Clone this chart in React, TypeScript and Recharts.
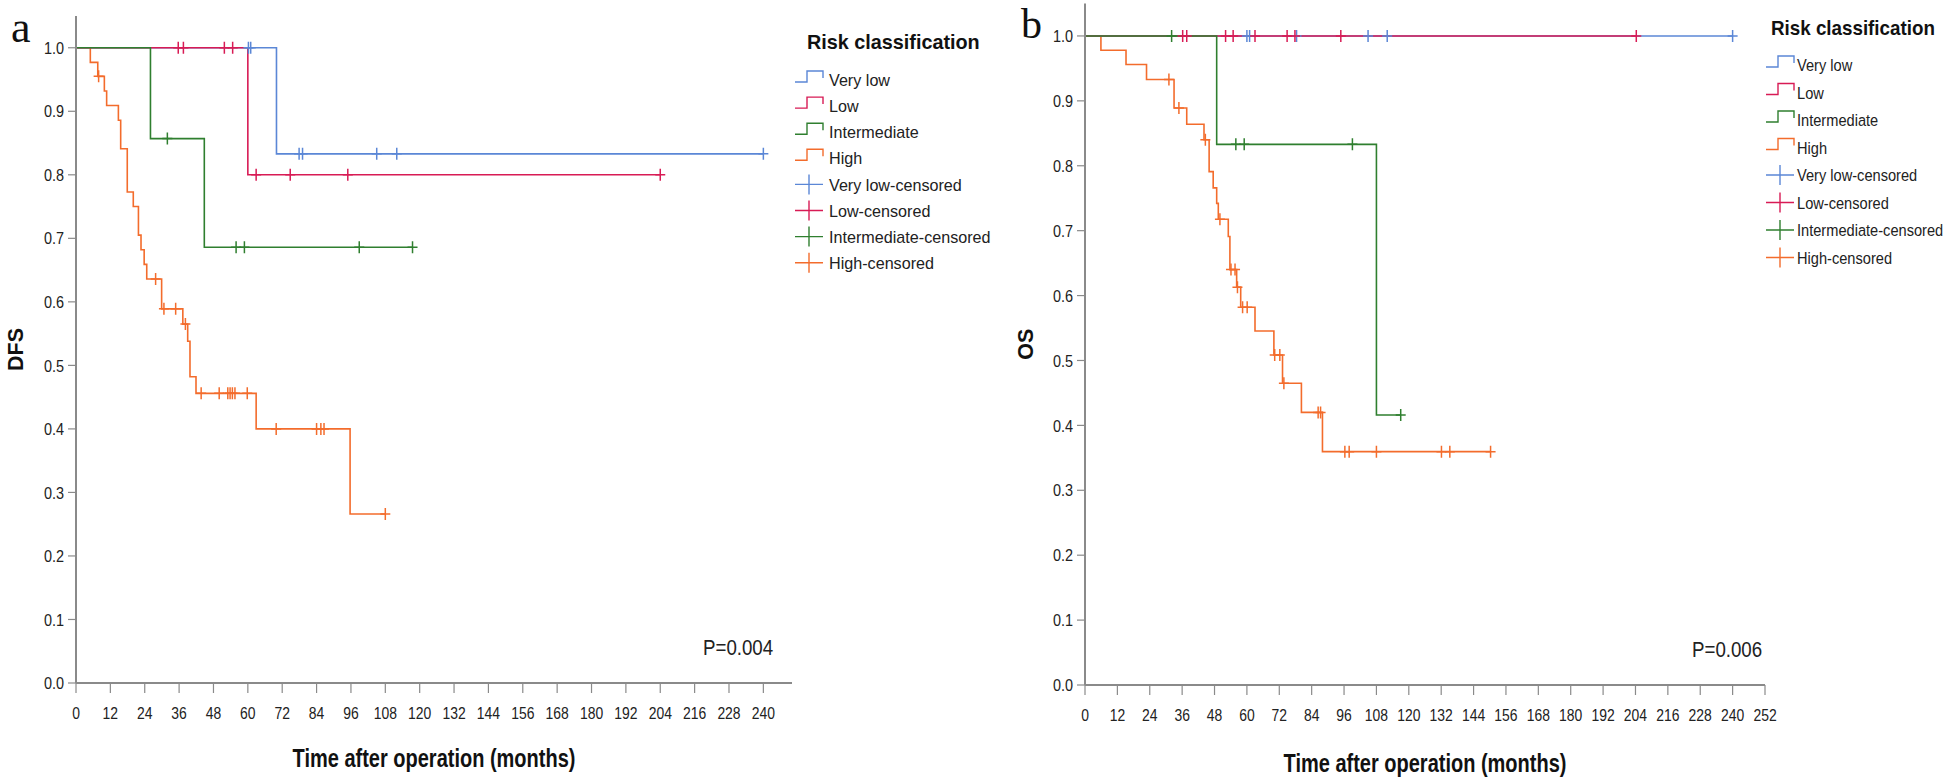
import React from 'react';
import { ComposedChart, Line, Scatter, XAxis, YAxis, Legend } from 'recharts';

type Pair = [number, number];

// ---- panel a: DFS, steps as [month, survival] ----
const DFS_VERY_LOW: Pair[] = [[0, 1], [70, 0.833], [240, 0.833]];
const DFS_LOW: Pair[] = [[0, 1], [60, 0.8], [204, 0.8]];
const DFS_INTERMEDIATE: Pair[] = [[0, 1], [26, 0.857], [44.8, 0.686], [117.5, 0.686]];
const DFS_HIGH: Pair[] = [
  [0, 1], [5, 0.977], [7.6, 0.955], [9.9, 0.932], [10.7, 0.909], [14.8, 0.886],
  [15.6, 0.841], [17.9, 0.773], [20, 0.75], [21.8, 0.705], [22.7, 0.682],
  [23.8, 0.659], [24.7, 0.636], [29.9, 0.589], [37.3, 0.565], [39, 0.538],
  [39.8, 0.482], [41.9, 0.456], [62.9, 0.4], [95.7, 0.266], [108, 0.266],
];
// censored times (months)
const DFS_VERY_LOW_CENS = [60.2, 61, 77.9, 79.1, 105, 112, 240];
const DFS_LOW_CENS = [35.7, 37.5, 51.8, 54.7, 62.9, 74.8, 94.9, 204];
const DFS_INTERMEDIATE_CENS = [31.9, 55.9, 58.8, 98.9, 117.5];
const DFS_HIGH_CENS = [7.9, 27.8, 30.7, 34.8, 38.2, 43.7, 50, 53, 53.8, 54.6, 55.5, 59.8, 69.9, 84, 85.5, 86.6, 108];

// ---- panel b: OS ----
const OS_VERY_LOW: Pair[] = [[0, 1], [240, 1]];
const OS_LOW: Pair[] = [[0, 1], [204.3, 1]];
const OS_INTERMEDIATE: Pair[] = [[0, 1], [48.8, 0.833], [108, 0.416], [117, 0.416]];
const OS_HIGH: Pair[] = [
  [0, 1], [5.9, 0.978], [15.2, 0.956], [22.8, 0.933], [33, 0.889], [37.7, 0.864],
  [44.1, 0.84], [46, 0.791], [47.5, 0.766], [48.8, 0.742], [49.4, 0.7175],
  [53.1, 0.691], [53.7, 0.64], [56.2, 0.613], [57.7, 0.582], [63, 0.5455],
  [70, 0.5085], [73.2, 0.465], [80.2, 0.42], [88, 0.3595], [150.3, 0.3595],
];
const OS_VERY_LOW_CENS = [60, 61, 78.4, 104.9, 112, 240];
const OS_LOW_CENS = [36.2, 37.7, 52.1, 54.9, 63, 74.9, 77.8, 94.8, 204.3];
const OS_INTERMEDIATE_CENS = [32.1, 55.9, 59, 99.1, 117];
const OS_HIGH_CENS = [31.1, 34.8, 44.6, 50, 54.1, 55.6, 56.5, 58.4, 60.1, 70.3, 72.2, 73.7, 86.4, 87.3, 96.3, 97.9, 108, 132.1, 135.2, 150.3];

const GROUPS = ['Very low', 'Low', 'Intermediate', 'High'];
const COLORS = ['#5b87d6', '#d81b55', '#2f7f2f', '#f36c2c'];
const Y_TICKS = [0, 0.1, 0.2, 0.3, 0.4, 0.5, 0.6, 0.7, 0.8, 0.9, 1.0];
const DFS_X_TICKS = [0, 12, 24, 36, 48, 60, 72, 84, 96, 108, 120, 132, 144, 156, 168, 180, 192, 204, 216, 228, 240];
const OS_X_TICKS = [0, 12, 24, 36, 48, 60, 72, 84, 96, 108, 120, 132, 144, 156, 168, 180, 192, 204, 216, 228, 240, 252];

const FONT = '"Liberation Sans", Arial, sans-serif';
const SERIF = '"Liberation Serif", "Times New Roman", serif';
const AXIS = '#8a8a8a';

const toPoints = (pairs: Pair[]) => pairs.map(([t, s]) => ({ t, s }));
const levelAt = (pairs: Pair[], t: number) => {
  let s = pairs[0][1];
  for (const [pt, ps] of pairs) if (pt <= t) s = ps;
  return s;
};
const toCensored = (times: number[], pairs: Pair[]) => times.map((t) => ({ t, s: levelAt(pairs, t) }));

const crossShape = (color: string) => (props: any) => {
  const { cx, cy } = props;
  return (
    <path
      d={`M${cx - 5},${cy}H${cx + 5}M${cx},${cy - 6}V${cy + 6}`}
      stroke={color}
      strokeWidth={1.5}
      fill="none"
    />
  );
};

const YTick = (props: any) => {
  const { x, y, payload } = props;
  return (
    <text transform={`translate(${x},${y}) scale(0.85,1)`} textAnchor="end" dy="0.36em" fontSize={17} fontFamily={FONT} fill="#222">
      {Number(payload.value).toFixed(1)}
    </text>
  );
};

const XTick = (props: any) => {
  const { x, y, payload } = props;
  return (
    <text transform={`translate(${x},${y}) scale(0.82,1)`} textAnchor="middle" dy="0.72em" fontSize={17} fontFamily={FONT} fill="#222">
      {payload.value}
    </text>
  );
};

const LEGEND_LABELS = [...GROUPS, ...GROUPS.map((g) => `${g}-censored`)];

function LegendSvg({ spec }: { spec: any }) {
  const { width, titleX, titleY, titleScale, rowY, rowGap, symX, textX, fontSize, scaleX } = spec;
  return (
    <svg width={width} height={300} style={{ display: 'block', overflow: 'visible' }}>
      <text transform={`translate(${titleX},${titleY}) scale(${titleScale},1)`} dy="0.36em" fontSize={20} fontWeight="bold" fontFamily={FONT} fill="#111">
        Risk classification
      </text>
      {LEGEND_LABELS.map((label, i) => {
        const cy = rowY + i * rowGap;
        const color = COLORS[i % 4];
        const sym = i < 4
          ? <path d={`M${symX},${cy + 2}H${symX + 12}V${cy - 9}H${symX + 28}V${cy - 2}`} stroke={color} strokeWidth={1.4} fill="none" />
          : <path d={`M${symX},${cy}H${symX + 28}M${symX + 14},${cy - 10}V${cy + 10}`} stroke={color} strokeWidth={1.4} fill="none" />;
        return (
          <g key={label}>
            {sym}
            <text transform={`translate(${textX},${cy}) scale(${scaleX},1)`} dy="0.36em" fontSize={fontSize} fontFamily={FONT} fill="#222">
              {label}
            </text>
          </g>
        );
      })}
    </svg>
  );
}

function Panel({ spec }: { spec: any }) {
  const order = [3, 0, 1, 2];
  return (
    <div style={{ position: 'absolute', left: spec.left, top: 0 }}>
      <ComposedChart width={spec.width} height={780} margin={spec.margin}>
        <XAxis
          type="number"
          dataKey="t"
          domain={spec.xDomain}
          ticks={spec.xTicks}
          interval={0}
          allowDataOverflow
          height={30}
          axisLine={{ stroke: AXIS, strokeWidth: 2 }}
          tickLine={{ stroke: AXIS, strokeWidth: 1.2 }}
          tickSize={10}
          tickMargin={14}
          tick={XTick}
          label={{
            content: (p: any) => {
              const vb = p.viewBox;
              const cx = vb.x + vb.width / 2;
              const y = vb.y + spec.xTitleDy;
              return (
                <text transform={`translate(${cx},${y}) scale(0.8,1)`} textAnchor="middle" fontSize={25} fontWeight="bold" fontFamily={FONT} fill="#111">
                  Time after operation (months)
                </text>
              );
            },
          }}
        />
        <YAxis
          type="number"
          dataKey="s"
          domain={[0, 1.05]}
          ticks={Y_TICKS}
          interval={0}
          allowDataOverflow
          width={spec.yAxisWidth}
          axisLine={{ stroke: AXIS, strokeWidth: 2 }}
          tickLine={{ stroke: AXIS, strokeWidth: 1.2 }}
          tickSize={8}
          tickMargin={4}
          tick={YTick}
          label={{
            content: (p: any) => {
              const vb = p.viewBox;
              const cy = vb.y + vb.height / 2;
              return (
                <text transform={`translate(${spec.yTitleX},${cy}) rotate(-90)`} textAnchor="middle" dy="0.36em" fontSize={21.5} fontWeight="bold" fontFamily={FONT} fill="#111">
                  {spec.yTitle}
                </text>
              );
            },
          }}
        />
        <Legend
          layout="vertical"
          align="right"
          verticalAlign="top"
          width={spec.legend.width}
          wrapperStyle={{ width: spec.legend.width }}
          content={() => <LegendSvg spec={spec.legend} />}
        />
        {order.map((i) => (
          <Line
            key={`line-${i}`}
            data={toPoints(spec.steps[i])}
            dataKey="s"
            type="stepAfter"
            stroke={COLORS[i]}
            strokeWidth={1.6}
            dot={false}
            activeDot={false}
            legendType="none"
            isAnimationActive={false}
          />
        ))}
        {order.map((i) => (
          <Scatter
            key={`cens-${i}`}
            data={toCensored(spec.censored[i], spec.steps[i])}
            dataKey="s"
            shape={crossShape(COLORS[i])}
            legendType="none"
            isAnimationActive={false}
          />
        ))}
      </ComposedChart>
    </div>
  );
}

const PANEL_A = {
  left: 0,
  width: 1005,
  margin: { top: 16, right: 8, bottom: 67, left: 0 },
  yAxisWidth: 76,
  xDomain: [0, 250],
  xTicks: DFS_X_TICKS,
  xTitleDy: 84,
  yTitle: 'DFS',
  yTitleX: 15,
  steps: [DFS_VERY_LOW, DFS_LOW, DFS_INTERMEDIATE, DFS_HIGH],
  censored: [DFS_VERY_LOW_CENS, DFS_LOW_CENS, DFS_INTERMEDIATE_CENS, DFS_HIGH_CENS],
  legend: { width: 205, titleX: 15, titleY: 26, titleScale: 0.99, rowY: 64, rowGap: 26.1, symX: 3, textX: 37, fontSize: 17, scaleX: 0.95 },
};

const PANEL_B = {
  left: 995,
  width: 965,
  margin: { top: 3.5, right: 0, bottom: 65, left: 0 },
  yAxisWidth: 90,
  xDomain: [0, 252],
  xTicks: OS_X_TICKS,
  xTitleDy: 87,
  yTitle: 'OS',
  yTitleX: 30,
  steps: [OS_VERY_LOW, OS_LOW, OS_INTERMEDIATE, OS_HIGH],
  censored: [OS_VERY_LOW_CENS, OS_LOW_CENS, OS_INTERMEDIATE_CENS, OS_HIGH_CENS],
  legend: { width: 195, titleX: 6, titleY: 23.5, titleScale: 0.94, rowY: 61, rowGap: 27.5, symX: 1, textX: 32, fontSize: 17, scaleX: 0.86 },
};

export default function App() {
  return (
    <div style={{ position: 'absolute', left: 0, top: 0, width: 1960, height: 780, background: '#fff' }}>
      <Panel spec={PANEL_A} />
      <Panel spec={PANEL_B} />
      <svg width={1960} height={780} style={{ position: 'absolute', left: 0, top: 0, pointerEvents: 'none' }}>
        <text x={11} y={42} fontSize={44} fontFamily={SERIF} fill="#111">a</text>
        <text x={1021} y={38} fontSize={42} fontFamily={SERIF} fill="#111">b</text>
        <text transform="translate(703,655) scale(0.85,1)" fontSize={22} fontFamily={FONT} fill="#222">P=0.004</text>
        <text transform="translate(1692,657) scale(0.85,1)" fontSize={22} fontFamily={FONT} fill="#222">P=0.006</text>
      </svg>
    </div>
  );
}
